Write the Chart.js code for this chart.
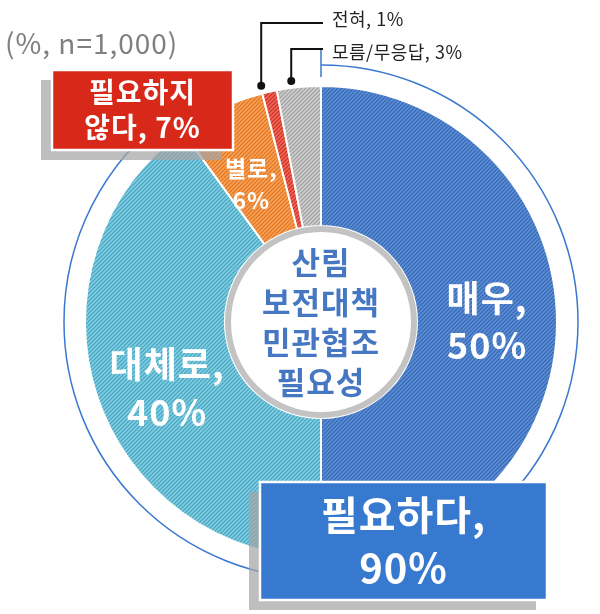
<!DOCTYPE html>
<html>
<head>
<meta charset="utf-8">
<script src="https://cdn.jsdelivr.net/npm/chart.js@4.4.1/dist/chart.umd.min.js"></script>
<style>
  html, body { margin: 0; padding: 0; background: #fff; }
  canvas { display: block; }
</style>
</head>
<body>
<canvas id="needChart" width="600" height="614"></canvas>
<script>
// survey answers, % (clockwise from 12 o'clock)
const categories = ['매우', '대체로', '별로', '전혀', '모름/무응답'];
const values = [50, 40, 6, 1, 3];

// grouped totals shown in the boxes
const groupLabels = ['필요하다', '필요하지 않다'];
const groupValues = [90, 7];

const centerTitle = ['산림', '보전대책', '민관협조', '필요성'];
const sampleNote = '(%, n=1,000)';

// stripe colours per slice: [dark, light]
const sliceColors = [
    ['#3767ae', '#5b8ed8'],
    ['#41a5c1', '#84cde0'],
    ['#e4711b', '#f6a25a'],
    ['#cf2c1f', '#ee6b5b'],
    ['#9e9e9e', '#cecece']
];

const FONT = '"Noto Sans CJK KR", "Noto Sans", sans-serif';

// diagonal hatch pattern, 4px tile
function hatch(dark, light) {
    const c = document.createElement('canvas');
    c.width = 4;
    c.height = 4;
    const g = c.getContext('2d');
    g.fillStyle = dark;
    g.fillRect(0, 0, 4, 4);
    g.strokeStyle = light;
    g.lineWidth = 1.6;
    g.beginPath();
    g.moveTo(-1, 5); g.lineTo(5, -1);
    g.moveTo(-1, 1); g.lineTo(1, -1);
    g.moveTo(3, 5); g.lineTo(5, 3);
    g.stroke();
    return g.createPattern(c, 'repeat');
}

// in-slice label styles (only the big slices get one)
const sliceLabelStyle = [
    { size: 36, gap: 47, dx: 0, dy: 0 },
    { size: 36, gap: 48, dx: 4, dy: 15 },
    { size: 23, gap: 32, dx: 1, dy: 12 },
    null,
    null
];

function drawLines(ctx, lines, x, y, gap) {
    const top = y - gap * (lines.length - 1) / 2;
    lines.forEach((t, i) => ctx.fillText(t, x, top + i * gap));
}

function drawBox(ctx, x, y, w, h, fill, lines, size, gap) {
    ctx.save();
    ctx.fillStyle = 'rgba(165, 165, 165, 0.72)';
    ctx.fillRect(x - 11, y + 10, w, h);
    ctx.fillStyle = fill;
    ctx.fillRect(x, y, w, h);
    ctx.strokeStyle = '#ffffff';
    ctx.lineWidth = 2.5;
    ctx.strokeRect(x, y, w, h);
    ctx.fillStyle = '#ffffff';
    ctx.font = 'bold ' + size + 'px ' + FONT;
    ctx.letterSpacing = '1px';
    ctx.textAlign = 'center';
    ctx.textBaseline = 'middle';
    drawLines(ctx, lines, x + w / 2, y + h / 2, gap);
    ctx.restore();
}

const decorations = {
    id: 'decorations',
    afterDatasetsDraw(chart) {
        const ctx = chart.ctx;
        const arcs = chart.getDatasetMeta(0).data;
        const cx = arcs[0].x, cy = arcs[0].y;
        const R = arcs[0].outerRadius, r = arcs[0].innerRadius;

        ctx.save();

        // grey ring round the hole
        ctx.beginPath();
        ctx.arc(cx, cy, r - 3, 0, Math.PI * 2);
        ctx.fillStyle = '#ffffff';
        ctx.fill();
        ctx.lineWidth = 6;
        ctx.strokeStyle = '#c3c3c3';
        ctx.stroke();

        // centre title
        ctx.fillStyle = '#4677c2';
        ctx.font = 'bold 31px ' + FONT;
        ctx.letterSpacing = '1px';
        ctx.textAlign = 'center';
        ctx.textBaseline = 'middle';
        drawLines(ctx, centerTitle, cx, cy, 40);

        // labels inside slices
        ctx.fillStyle = '#ffffff';
        arcs.forEach((a, i) => {
            const st = sliceLabelStyle[i];
            if (!st) return;
            const mid = (a.startAngle + a.endAngle) / 2;
            const rr = (a.innerRadius + a.outerRadius) / 2;
            const x = cx + Math.cos(mid) * rr + st.dx;
            const y = cy + Math.sin(mid) * rr + st.dy;
            ctx.font = 'bold ' + st.size + 'px ' + FONT;
            drawLines(ctx, [categories[i] + ',', values[i] + '%'], x, y, st.gap);
        });
        ctx.letterSpacing = '0px';

        // thin outer arc over the "needed" group (first two slices)
        ctx.strokeStyle = '#3a78d0';
        ctx.lineWidth = 1.5;
        ctx.beginPath();
        ctx.arc(cx, cy, R + 21, arcs[0].startAngle, arcs[1].endAngle);
        ctx.stroke();
        ctx.beginPath();
        ctx.moveTo(cx, cy - R - 36);
        ctx.lineTo(cx, cy - R - 9);
        ctx.stroke();

        // call-outs for the small slices
        const callouts = [{ i: 3, ty: 19, ly: 23 }, { i: 4, ty: 52, ly: 49 }];
        ctx.font = '18px ' + FONT;
        ctx.letterSpacing = '0.5px';
        ctx.textAlign = 'left';
        callouts.forEach(c => {
            const a = arcs[c.i];
            const mid = (a.startAngle + a.endAngle) / 2;
            const px = cx + Math.cos(mid) * (R + 6) - 7;
            const py = cy + Math.sin(mid) * (R + 6);
            ctx.strokeStyle = '#111111';
            ctx.lineWidth = 2;
            ctx.beginPath();
            ctx.moveTo(px, py);
            ctx.lineTo(px, c.ly);
            ctx.lineTo(cx + 2, c.ly);
            ctx.stroke();
            ctx.fillStyle = '#111111';
            ctx.beginPath();
            ctx.arc(px, py, 4, 0, Math.PI * 2);
            ctx.fill();
            ctx.fillStyle = '#222222';
            ctx.fillText(categories[c.i] + ', ' + values[c.i] + '%', cx + 11, c.ty);
        });

        // sample note
        ctx.fillStyle = '#808080';
        ctx.font = '28px ' + FONT;
        ctx.letterSpacing = '1px';
        ctx.textAlign = 'left';
        ctx.fillText(sampleNote, 5, 43);
        ctx.restore();

        // group boxes
        drawBox(ctx, 52, 70, 181, 80, '#d8281a',
            ['필요하지', '않다, ' + groupValues[1] + '%'], 28, 35);
        drawBox(ctx, 260, 482, 287, 118, '#3879d0',
            [groupLabels[0] + ',', groupValues[0] + '%'], 40, 53);
    }
};

const ctx = document.getElementById('needChart').getContext('2d');

const needChart = new Chart(ctx, {
    type: 'doughnut',
    data: {
        labels: categories,
        datasets: [{
            data: values,
            backgroundColor: sliceColors.map(c => hatch(c[0], c[1])),
            borderColor: '#ffffff',
            borderWidth: 2
        }]
    },
    options: {
        responsive: false,
        animation: false,
        devicePixelRatio: 1,
        cutout: 96,
        layout: {
            padding: { left: 84, right: 42, top: 85, bottom: 55 }
        },
        plugins: {
            legend: { display: false },
            tooltip: { enabled: false }
        }
    },
    plugins: [decorations]
});
</script>
</body>
</html>
